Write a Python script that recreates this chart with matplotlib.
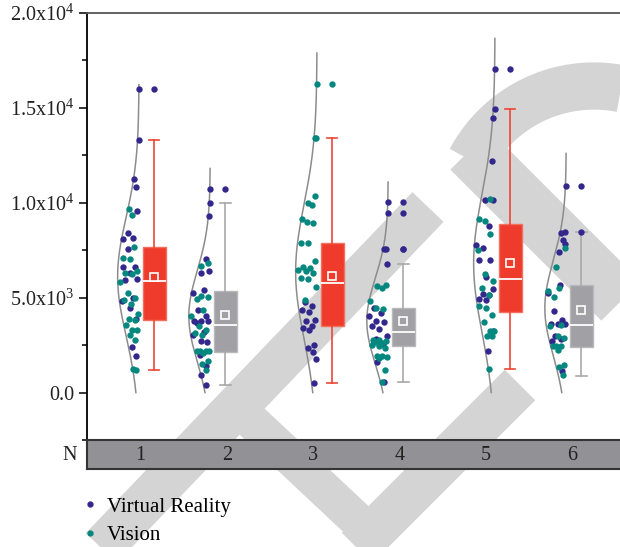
import matplotlib
matplotlib.use("Agg")
import matplotlib.pyplot as plt
import numpy as np
from matplotlib.lines import Line2D
from matplotlib.ticker import MultipleLocator

plt.rcParams['font.family'] = ['Liberation Serif', 'DejaVu Serif']
plt.rcParams['mathtext.fontset'] = 'custom'
plt.rcParams['mathtext.rm'] = 'Liberation Serif'
plt.rcParams['mathtext.it'] = 'Liberation Serif:italic'

# ---- data ----
groups = ['1', '2', '3', '4', '5', '6']
positions = [1.0, 1.8, 3.0, 3.8, 5.0, 5.8]

vr = [
    [16000, 13300, 11230, 10840, 9560, 8420, 8160, 8080, 7550, 6640, 6600, 6290,
     5970, 5940, 4970, 4800, 4450, 3870, 2380, 1940],
    [10720, 10000, 9300, 7060, 6430, 6290, 5410, 5270, 4330, 4010, 3750, 3750,
     3750, 3660, 3170, 3050, 2700, 2640, 1960, 1420, 950, 400],
    [4750, 4540, 4360, 4220, 3800, 3750, 3520, 3400, 3310, 2520, 2350, 2120, 1770, 510],
    [10040, 9440, 7580, 7580, 6760, 4450, 4190, 4010, 3750, 3700, 3490, 3330,
     2960, 2820, 2570, 1610, 540],
    [17030, 14960, 14470, 12190, 10140, 10140, 8760, 7780, 7640, 6990, 6990, 6110,
     5470, 5190, 5150, 4940, 4890, 3260, 2170],
    [10900, 8480, 8390, 8040, 7810, 7390, 5680, 5240, 4310, 3840, 3610, 3610,
     3610, 2960, 2840, 2730, 1160],
]
vision = [
    [9650, 9350, 7690, 7080, 7020, 6430, 6320, 6240, 5800, 5270, 4970, 4890,
     4680, 4130, 3870, 3800, 3570, 3280, 3280, 3050, 2790, 1240, 1170],
    [6810, 6670, 5100, 5030, 4920, 4360, 4050, 3490, 3280, 3140, 3050, 2170,
     2170, 2170, 2170, 2080, 1650, 1520, 1170],
    [16270, 13430, 13430, 10350, 10000, 9880, 9130, 9000, 8920, 7900, 7900, 6950,
     6640, 6550, 6460, 6380, 6320, 6030, 5970, 5550, 4890],
    [5680, 5620, 5500, 4850, 4430, 4380, 2790, 2750, 2700, 2650, 2610, 2520,
     2430, 2350, 1950, 1900, 1870, 1820, 1170, 560],
    [10190, 9140, 9040, 8360, 7510, 6240, 5890, 5500, 5150, 4540, 4480, 4100,
     3700, 3260, 3260, 2960, 2960, 1260],
    [7640, 6600, 5500, 5360, 5030, 3570, 3490, 2960, 2870, 2430, 2430, 2430,
     2260, 1430, 1330, 910],
]

# box statistics as drawn in the figure
whis_lo = [1170, 400, 510, 540, 1260, 890]
q1 = [3800, 2120, 3500, 2440, 4270, 2400]
median = [5880, 3570, 5760, 3190, 5990, 3540]
mean = [6110, 4080, 6150, 3780, 6850, 4360]
q3 = [7690, 5330, 7900, 4450, 8860, 5680]
whis_hi = [13300, 10000, 13430, 6760, 14960, 8440]

yticks = [0, 5000, 10000, 15000, 20000]
ytick_labels = ['0.0', r'5.0x10$^3$', r'1.0x10$^4$', r'1.5x10$^4$', r'2.0x10$^4$']

# ---- style ----
c_vr = '#32288c'
c_vis = '#03877f'
box_fill = ['#ee3b2b', '#a1a1a5'] * 3
box_edge = ['#f36f60', '#b9b9bc'] * 3
whisk = ['#ef4433', '#a9a9ab'] * 3
box_off = 0.17
curve_w = 0.24

W, H = 620, 547
fig = plt.figure(figsize=(W / 100, H / 100), dpi=100)

# light grey watermark behind the chart
bg = fig.add_axes([0, 0, 1, 1])
bg.set_xlim(0, W)
bg.set_ylim(H, 0)
bg.set_axis_off()
wm = dict(color='#d4d4d4', solid_capstyle='butt')
bg.plot([85, 428], [565, 207], lw=31, **wm)
bg.plot([470, 680], [150, 360], lw=40, **wm)
th = np.radians(np.linspace(152, -5, 80))
bg.plot(594 + 140 * np.cos(th), 226 - 140 * np.sin(th), lw=34, **wm)
bg.plot([245, 405], [415, 565], lw=26, **wm)
bg.plot([340, 520], [565, 385], lw=31, **wm)

x0 = 1 - (139 - 87) / 89
x1 = 1 + (625 - 139) / 89
ax = fig.add_axes([87 / W, 1 - 440 / H, 538 / W, 427 / H])
ax.set_facecolor('none')
ax.set_xlim(x0, x1)
ax.set_ylim(-2500, 20000)

for i, pos in enumerate(positions):
    allv = np.array(vr[i] + vision[i], dtype=float)
    m, s = allv.mean(), allv.std(ddof=1)

    def width(y):
        return curve_w * np.exp(-0.5 * ((np.asarray(y) - m) / s) ** 2)

    yy = np.linspace(max(0, m - 3.25 * s), m + 3.25 * s, 200)
    ax.plot(pos - width(yy), yy, color='#8c8c8c', lw=1.1, zorder=2)

    k = 0
    for vals, col in ((vr[i], c_vr), (vision[i], c_vis)):
        vals = np.array(vals, dtype=float)
        frac = 0.05 + 0.9 * ((np.arange(len(vals)) + 1 + k) * 0.618034 % 1)
        k += len(vals)
        ax.scatter(pos - frac * width(vals), vals, s=21, color=col, lw=0, zorder=4)
        out = vals[vals > whis_hi[i]]
        ax.scatter(np.full(len(out), pos + box_off), out, s=21, color=col, lw=0, zorder=4)

    st = dict(whislo=whis_lo[i], q1=q1[i], med=median[i], q3=q3[i],
              whishi=whis_hi[i], mean=mean[i], fliers=[])
    ax.bxp([st], positions=[pos + box_off], widths=0.26, capwidths=0.12,
           showmeans=True, patch_artist=True, manage_ticks=False,
           boxprops=dict(facecolor=box_fill[i], edgecolor=box_edge[i], lw=1),
           medianprops=dict(color='white', lw=1.3),
           whiskerprops=dict(color=whisk[i], lw=1.2),
           capprops=dict(color=whisk[i], lw=1.2),
           meanprops=dict(marker='s', markerfacecolor=box_fill[i],
                          markeredgecolor='white', markersize=5.5,
                          markeredgewidth=1.2))

ax.set_xticks([])
ax.set_yticks(yticks)
ax.set_yticklabels(ytick_labels, fontsize=14.5, color='#222222')
ax.yaxis.set_minor_locator(MultipleLocator(2500))
ax.tick_params(axis='y', which='major', direction='out', length=6, width=1.1, pad=3)
ax.tick_params(axis='y', which='minor', direction='out', length=3.5, width=1.1)
ax.spines['left'].set_linewidth(1.3)
ax.spines['top'].set_linewidth(1.3)
ax.spines['top'].set_color('#555555')
ax.spines['right'].set_visible(False)
ax.spines['bottom'].set_visible(False)

# N row under the plot
nb = fig.add_axes([87 / W, 1 - 469 / H, 538 / W, 29 / H])
nb.set_facecolor('#929296')
nb.set_xlim(x0, x1)
nb.set_ylim(0, 1)
nb.set_xticks([])
nb.set_yticks([])
for sp in nb.spines.values():
    sp.set_color('#333333')
    sp.set_linewidth(1.5)
n_pos = 1.02 + 0.969 * np.arange(len(groups))
for xp, g in zip(n_pos, groups):
    nb.text(xp, 0.45, g, ha='center', va='center', fontsize=14.5, color='#222222')
fig.text(70 / W, 1 - 455 / H, 'N', ha='center', va='center', fontsize=14.5, color='#222222')

handles = [Line2D([], [], marker='o', ls='', color=c_vr, ms=3.5, label='Virtual Reality'),
           Line2D([], [], marker='o', ls='', color=c_vis, ms=3.5, label='Vision')]
fig.legend(handles=handles, loc='upper left', bbox_to_anchor=(84 / W, 1 - 497 / H),
           frameon=False, fontsize=15, handlelength=0.6, handletextpad=0.5,
           labelspacing=0.42, borderaxespad=0, borderpad=0)

fig.savefig('out.png', dpi=100, facecolor='white')
